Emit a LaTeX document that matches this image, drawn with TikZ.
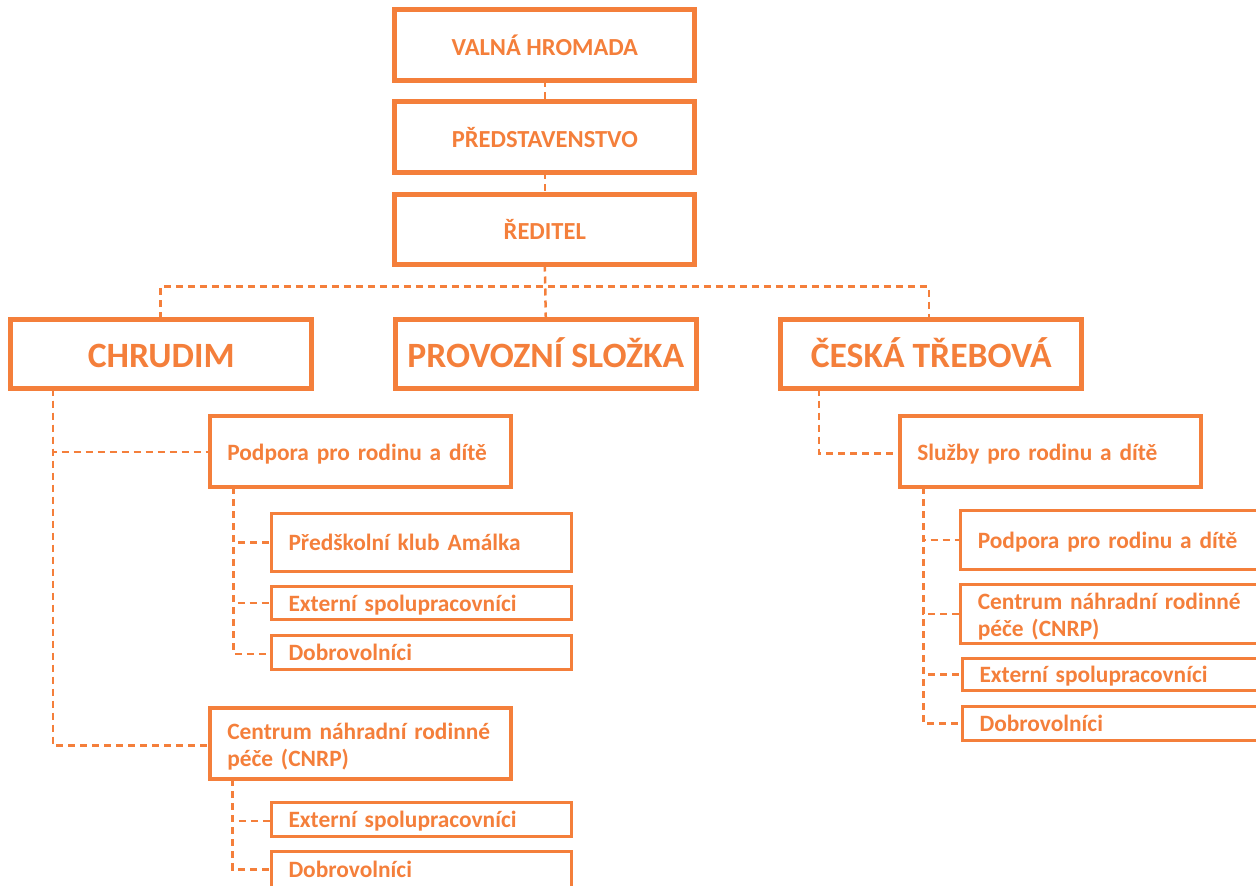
\documentclass[tikz,border=0pt]{standalone}
\usepackage{fontspec}
\setmainfont{Carlito}
\definecolor{org}{HTML}{F47F3B}
\newcommand\oneline[1]{\rule{0pt}{16.5pt}\smash{#1}}
\newcommand\midline[1]{\rule{0pt}{18pt}\smash{#1}}
\begin{document}
\begin{tikzpicture}[x=1pt,y=-1pt,
  every node/.style={inner sep=0pt,outer sep=0pt,anchor=north west,text=org},
  topbox/.style={draw=org,line width=5pt,minimum width=300pt,minimum height=70.5pt,
    text height=21pt,text depth=0pt,
    font=\bfseries\fontsize{24.5}{28}\selectfont},
  bigbox/.style={draw=org,line width=5pt,minimum width=301pt,minimum height=69.5pt,
    text height=27pt,text depth=0pt,
    font=\bfseries\fontsize{35.6}{42}\selectfont},
  midbox/.style={draw=org,line width=4pt,minimum width=301pt,minimum height=71pt,
    text width=267pt,inner xsep=17pt,align=left,
    font=\bfseries\fontsize{23.4}{27}\selectfont},
  smallbox/.style={draw=org,line width=3pt,minimum width=300pt,
    text width=266pt,inner xsep=17pt,align=left,
    font=\bfseries\fontsize{23.4}{27}\selectfont},
  conn/.style={draw=org,line width=2.5pt,dash pattern=on 7pt off 5pt}]
\useasboundingbox (0,0) rectangle (1256,886);
\clip (0,0) rectangle (1256,886);
% top chain
\node[topbox] (vh) at (394.8,9.8) {VALNÁ HROMADA};
\node[topbox] (pr) at (394.8,101.8) {PŘEDSTAVENSTVO};
\node[topbox] (re) at (394.8,194) {ŘEDITEL};
% second row
\node[bigbox] (ch) at (10.8,319.2) {CHRUDIM};
\node[bigbox] (ps) at (395.3,319.2) {PROVOZNÍ SLOŽKA};
\node[bigbox] (ct) at (780.8,319.2) {ČESKÁ TŘEBOVÁ};
% Chrudim branch
\node[midbox] (cpod) at (210.3,416.3) {\midline{Podpora pro rodinu a dítě}};
\node[smallbox,minimum height=58.6pt] (cpred) at (271.5,513.2) {\oneline{Předškolní klub Amálka}};
\node[smallbox,minimum height=33pt] (cext) at (271.5,586.5) {\oneline{Externí spolupracovníci}};
\node[smallbox,minimum height=33.7pt] (cdob) at (271.5,635.5) {\oneline{Dobrovolníci}};
\node[midbox] (ccn) at (210.3,708) {\rule{0pt}{23pt}\mbox{Centrum náhradní rodinné}\\\mbox{péče (CNRP)}\rule[-5pt]{0pt}{5pt}};
\node[smallbox,minimum height=33.7pt] (cext2) at (271.5,802.5) {\oneline{Externí spolupracovníci}};
\node[smallbox,minimum height=36pt] (cdob2) at (271.5,851.5) {\oneline{Dobrovolníci}};
% Ceska Trebova branch
\node[midbox] (tsl) at (900.3,416.3) {\midline{Služby pro rodinu a dítě}};
\node[smallbox,minimum height=59pt] (tpod) at (960.8,510.5) {\oneline{Podpora pro rodinu a dítě}};
\node[smallbox,minimum height=58.7pt] (tcn) at (960.8,584.8) {\rule{0pt}{23pt}\mbox{Centrum náhradní rodinné}\\\mbox{péče (CNRP)}\rule[-5pt]{0pt}{5pt}};
\node[smallbox,minimum height=32.6pt] (text) at (962.5,658.2) {\oneline{Externí spolupracovníci}};
\node[smallbox,minimum height=33.7pt] (tdob) at (962.5,706.5) {\oneline{Dobrovolníci}};
% connectors
\coordinate (bus) at (544.8,286.7);
\draw[conn] (vh.south) -- (pr.north);
\draw[conn] (pr.south) -- (re.north);
\draw[conn] (re.south) -- (ps.north);
\draw[conn] ([xshift=-1pt]ch.north) |- (bus) -| ([xshift=-2.5pt]ct.north);
\draw[conn] ([xshift=42pt]ch.south west) |- (cpod.west);
\draw[conn] ([xshift=42pt]ch.south west) |- ([yshift=-2pt]ccn.west);
\draw[conn] ([xshift=23pt]cpod.south west) |- (cpred.west);
\draw[conn] ([xshift=23pt]cpod.south west) |- (cext.west);
\draw[conn] ([xshift=23pt]cpod.south west) |- ([yshift=-1.5pt]cdob.west);
\draw[conn] ([xshift=22.4pt]ccn.south west) |- ([yshift=-1.5pt]cext2.west);
\draw[conn] ([xshift=22.4pt]ccn.south west) |- (cdob2.west);
\draw[conn] ([xshift=38.2pt]ct.south west) |- ([yshift=-1.5pt]tsl.west);
\draw[conn] ([xshift=23pt]tsl.south west) |- (tpod.west);
\draw[conn] ([xshift=23pt]tsl.south west) |- (tcn.west);
\draw[conn] ([xshift=23pt]tsl.south west) |- (text.west);
\draw[conn] ([xshift=23pt]tsl.south west) |- (tdob.west);
\end{tikzpicture}
\end{document}
